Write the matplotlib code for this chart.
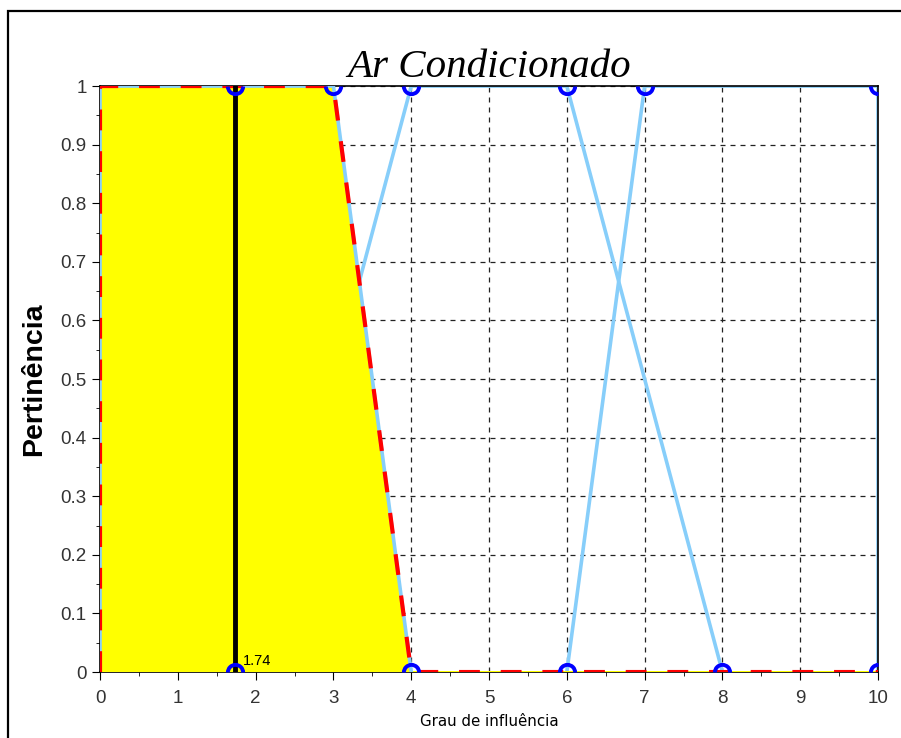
import matplotlib.pyplot as plt
from matplotlib.patches import Rectangle
from matplotlib.path import Path
from matplotlib.ticker import MultipleLocator

# conjuntos fuzzy de saída
set1_x = [0, 0, 3, 4]
set1_y = [0, 1, 1, 0]
set2_x = [2, 4, 6, 8]
set2_y = [0, 1, 1, 0]
set3_x = [6, 7, 10, 10]
set3_y = [0, 1, 1, 0]

# saída agregada
agg_x = [0, 0, 3, 4, 10]
agg_y = [0, 1, 1, 0, 0]

centroid = 1.74

# vértices marcados (topo / base)
top_x = [centroid, 3, 4, 6, 7]
base_x = [centroid, 4, 6, 8]
corner_x = 10

fig = plt.figure(figsize=(9.01, 7.38), dpi=100)
ax = fig.add_axes([0.111, 0.0894, 0.8635, 0.794])

fig.patches.append(Rectangle((8 / 901, -0.01), 1.0, 1 - 11 / 738 + 0.01,
                             transform=fig.transFigure, fill=False,
                             edgecolor='black', linewidth=1.6))

lb = '#87cefa'
ax.plot(set2_x, set2_y, color=lb, lw=2.6, zorder=2)
ax.plot(set3_x, set3_y, color=lb, lw=2.6, zorder=2)
ax.fill(agg_x, agg_y, color='#ffff00', zorder=3)
ax.plot(set1_x, set1_y, color=lb, lw=2.6, zorder=4)
ax.plot(agg_x, agg_y, color='red', lw=3, dashes=(5, 5), zorder=5)
ax.plot([centroid, centroid], [0, 1], color='black', lw=3.5, zorder=6)

# marcadores cortados pela borda do eixo
lower_half = Path.arc(180, 360)
upper_half = Path.arc(0, 180)
mk = dict(ls='none', mfc='none', mec='blue', mew=2.8, ms=11, zorder=7, clip_on=False)
ax.plot(top_x, [1] * len(top_x), marker=lower_half, **mk)
ax.plot(base_x, [0] * len(base_x), marker=upper_half, **mk)
ax.plot([corner_x], [1], marker=Path.arc(180, 270), **mk)
ax.plot([corner_x], [0], marker=Path.arc(90, 180), **mk)

ax.text(centroid + 0.1, 0.012, f'{centroid:.2f}', fontsize=10.5,
        family='Liberation Sans', zorder=8)

ax.set_xlim(0, 10)
ax.set_ylim(0, 1)
ax.grid(True, color='#222222', ls=(0, (4, 4)), lw=0.9, zorder=1)
ax.set_axisbelow(True)
ax.xaxis.set_major_locator(MultipleLocator(1))
ax.xaxis.set_minor_locator(MultipleLocator(0.5))
ax.yaxis.set_minor_locator(MultipleLocator(0.05))
ax.set_yticks([i / 10 for i in range(11)])
ax.set_yticklabels(['0', '0.1', '0.2', '0.3', '0.4', '0.5', '0.6', '0.7', '0.8', '0.9', '1'])
ax.tick_params(which='major', length=6, labelsize=13.5, color='black')
ax.tick_params(axis='x', which='major', pad=7)
ax.tick_params(which='minor', length=3)
for lab in ax.get_xticklabels() + ax.get_yticklabels():
    lab.set_family('Liberation Sans')
    lab.set_color('#333333')
for s in ax.spines.values():
    s.set_linewidth(1.2)

ax.set_title('Ar Condicionado', family='Liberation Serif', style='italic',
             fontsize=29.5, pad=6)
ax.set_ylabel('Pertinência', family='Liberation Sans', fontweight='bold',
              fontsize=20.5, labelpad=10)
ax.set_xlabel('Grau de influência', family='DejaVu Sans', fontsize=10.8,
              labelpad=5)

fig.savefig('out.png', dpi=100)
